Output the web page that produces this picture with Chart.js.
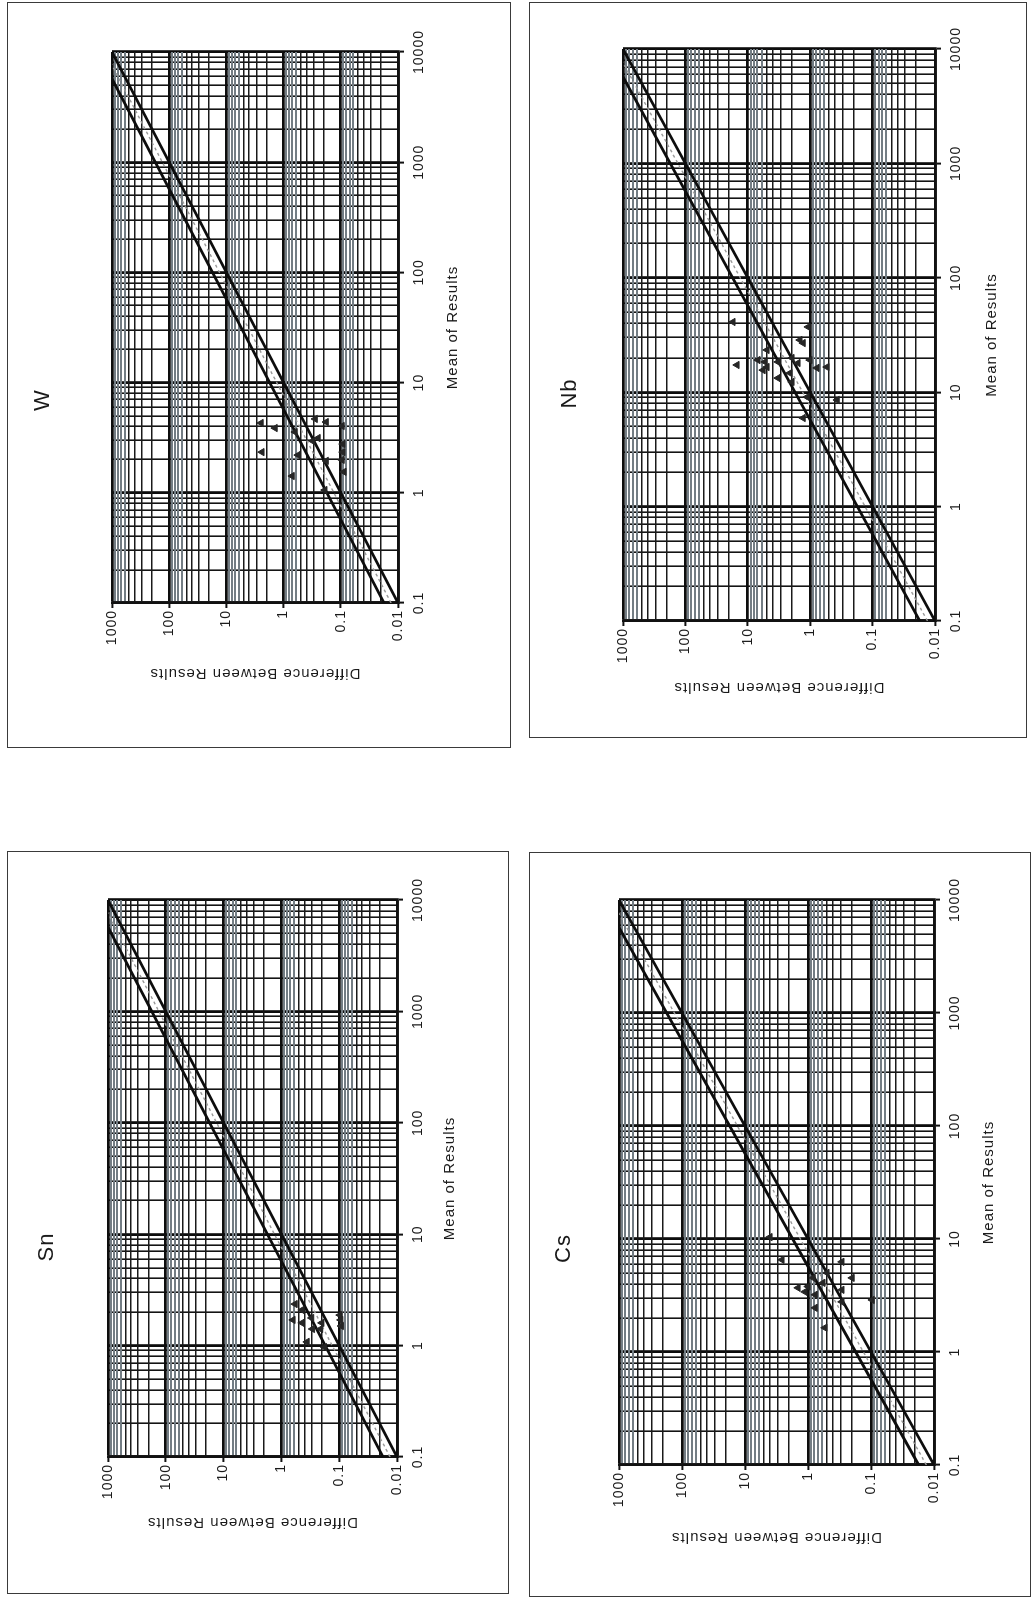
<!DOCTYPE html>
<html><head><meta charset="utf-8">
<script src="https://cdn.jsdelivr.net/npm/chart.js@4.4.1/dist/chart.umd.min.js"></script>
<style>
html,body{margin:0;padding:0;background:#fff;}
body{width:1034px;height:1601px;position:relative;overflow:hidden;}
.box{position:absolute;border:1.5px solid #3a3a3a;box-sizing:border-box;}
.rot{position:absolute;transform-origin:0 0;transform:rotate(-90deg);}
.rot canvas{display:block;}
</style></head><body>
<script>
// ---- data ----
const xTickLabels = ['0.1', '1', '10', '100', '1000', '10000'];
const yTickLabels = ['0.01', '0.1', '1', '10', '100', '1000'];
const lineX = [0.1, 10000];
const lineLower = [0.01, 1000];
const lineUpper = [0.0175, 1750];
const lineMiddle = [0.0132, 1320];

const wMean = [4.30, 3.87, 2.34, 1.42, 2.20, 4.68, 4.39, 4.04, 2.77, 1.99, 1.55, 3.14, 1.95, 3.56, 2.34, 1.06, 2.95];
const wDiff = [2.48, 1.41, 2.39, 0.71, 0.56, 0.28, 0.18, 0.095, 0.092, 0.095, 0.088, 0.25, 0.18, 0.63, 0.092, 0.19, 0.31];

const nbMean = [41.1, 37.2, 28.6, 26.9, 23.4, 17.3, 19.1, 18.4, 16.6, 15.6, 18.4, 19.9, 18.0, 19.1, 16.3, 16.6, 13.3, 14.7, 12.3, 9.08, 8.55, 5.95];
const nbDiff = [17.3, 1.08, 1.46, 1.30, 4.92, 14.9, 6.87, 5.30, 4.92, 5.70, 3.28, 1.96, 1.57, 1.01, 0.78, 0.54, 3.28, 2.11, 1.96, 1.12, 0.37, 1.30];

const snMean = [2.36, 1.70, 1.60, 1.08, 1.77, 1.41, 1.41, 1.60, 0.97, 1.88, 1.70, 1.50, 2.09];
const snDiff = [0.58, 0.63, 0.44, 0.36, 0.30, 0.29, 0.21, 0.20, 0.18, 0.097, 0.094, 0.092, 0.44];

const csMean = [10.4, 6.55, 3.70, 3.41, 4.53, 5.02, 4.09, 3.21, 2.46, 1.64, 6.28, 3.55, 2.78, 4.53, 2.89, 3.8];
const csDiff = [4.01, 2.59, 1.44, 1.12, 0.83, 0.50, 0.58, 0.77, 0.77, 0.54, 0.29, 0.29, 0.29, 0.20, 0.096, 1.0];

// ---- layout (page boxes; chart areas in un-rotated chart coordinates) ----
const panels = [
  {name:'W',  mean:wMean,  diff:wDiff,  box:{l:7,  t:2,   r:511,  b:748},  area:{left:145, right:696, top:105, bottom:391}, titleV:36, yTitleU:75, xTitleV:446},
  {name:'Nb', mean:nbMean, diff:nbDiff, box:{l:529, t:2,  r:1027, b:738},  area:{left:117, right:689, top:94,  bottom:406}, titleV:41, yTitleU:51, xTitleV:463},
  {name:'Sn', mean:snMean, diff:snDiff, box:{l:7,  t:851, r:509,  b:1594}, area:{left:137, right:694, top:101, bottom:390}, titleV:40, yTitleU:72, xTitleV:443},
  {name:'Cs', mean:csMean, diff:csDiff, box:{l:529, t:852, r:1031, b:1597}, area:{left:132, right:697, top:90,  bottom:405}, titleV:35, yTitleU:60, xTitleV:460}
];

const F = "'Liberation Sans', Arial, Helvetica, sans-serif";
const INK = '#1a1a1a';

function tickList(min, max) {
  const out = [];
  for (let e = Math.round(Math.log10(min)); e < Math.round(Math.log10(max)); e++) {
    for (let m = 1; m < 10; m++) out.push(Number((m * Math.pow(10, e)).toPrecision(6)));
  }
  out.push(max);
  return out;
}
function isMajor(v) { const l = Math.log10(v); return Math.abs(l - Math.round(l)) < 1e-6; }
function mant(v) { return Math.round(v / Math.pow(10, Math.floor(Math.log10(v) + 1e-9))); }

const lsPlugin = {
  id: 'ls',
  beforeLayout(chart) { chart.ctx.letterSpacing = '1px'; },
  beforeDraw(chart) { chart.ctx.letterSpacing = '1px'; }
};

function pts(xs, ys) { return xs.map((x, i) => ({x: x, y: ys[i]})); }

panels.forEach(p => {
  const W = p.box.b - p.box.t;   // chart width (page vertical)
  const H = p.box.r - p.box.l;   // chart height (page horizontal)
  const bd = document.createElement('div');
  bd.className = 'box';
  bd.style.left = p.box.l + 'px'; bd.style.top = p.box.t + 'px';
  bd.style.width = (p.box.r - p.box.l) + 'px'; bd.style.height = (p.box.b - p.box.t) + 'px';
  document.body.appendChild(bd);

  const wrap = document.createElement('div');
  wrap.className = 'rot';
  wrap.style.left = p.box.l + 'px'; wrap.style.top = p.box.b + 'px';
  wrap.style.width = W + 'px'; wrap.style.height = H + 'px';
  const cv = document.createElement('canvas');
  cv.width = W; cv.height = H;
  wrap.appendChild(cv);
  document.body.appendChild(wrap);

  const a = p.area;
  const tPadTop = p.titleV - 13.2;
  const tPadBot = a.top - tPadTop - 26.4;

  new Chart(cv, {
    type: 'scatter',
    data: {
      datasets: [
        {data: pts(lineX, lineMiddle), showLine: true, borderColor: '#9a9a9a', borderWidth: 1.4, borderDash: [3, 3], pointRadius: 0, fill: false, order: 3},
        {data: pts(lineX, lineLower), showLine: true, borderColor: '#0d0d0d', borderWidth: 2.8, pointRadius: 0, fill: false, order: 2},
        {data: pts(lineX, lineUpper), showLine: true, borderColor: '#0d0d0d', borderWidth: 2.8, pointRadius: 0, fill: false, order: 2},
        {data: pts(p.mean, p.diff), showLine: false, pointStyle: 'triangle', pointRadius: 4.2, backgroundColor: '#262626', borderColor: '#262626', borderWidth: 1, order: 1}
      ]
    },
    options: {
      responsive: false,
      animation: false,
      devicePixelRatio: 1,
      layout: {padding: {left: 0, top: 0, right: W - a.right, bottom: 0}},
      plugins: {
        legend: {display: false},
        tooltip: {enabled: false},
        title: {display: true, text: p.name, color: INK, font: {family: F, size: 22, weight: 'normal', lineHeight: 1.2}, padding: {top: tPadTop, bottom: tPadBot}}
      },
      scales: {
        x: {
          type: 'logarithmic', position: 'bottom', min: 0.1, max: 10000,
          afterBuildTicks: s => { s.ticks = tickList(0.1, 10000).map(v => ({value: v})); },
          afterFit: s => { s.height = H - a.bottom; },
          ticks: {
            autoSkip: false, maxRotation: 0, minRotation: 0, padding: 7, color: INK,
            font: {family: F, size: 14},
            callback: v => isMajor(v) ? xTickLabels[Math.round(Math.log10(v)) + 1] : ''
          },
          grid: {
            color: c => (c.tick && isMajor(c.tick.value)) ? '#0d0d0d' : '#141414',
            lineWidth: c => (c.tick && isMajor(c.tick.value)) ? 2.8 : 1.6,
            tickLength: 6,
            tickColor: c => (c.tick && isMajor(c.tick.value)) ? '#111' : 'rgba(0,0,0,0)',
            tickWidth: 2
          },
          border: {display: true, color: '#111', width: 2.8},
          title: {display: true, text: 'Mean of Results', color: INK, font: {family: F, size: 15, lineHeight: 1.2}, padding: {top: 0, bottom: H - p.xTitleV - 9}}
        },
        y: {
          type: 'logarithmic', position: 'left', min: 0.01, max: 1000,
          afterBuildTicks: s => { s.ticks = tickList(0.01, 1000).map(v => ({value: v})); },
          afterFit: s => { s.width = a.left; },
          ticks: {
            autoSkip: false, padding: 2, color: INK,
            font: {family: F, size: 14},
            callback: v => isMajor(v) ? yTickLabels[Math.round(Math.log10(v)) + 2] : ''
          },
          grid: {
            color: c => {
              if (!c.tick) return '#1a1a1a';
              if (isMajor(c.tick.value)) return '#0d0d0d';
              return mant(c.tick.value) >= 6 ? '#737d84' : '#1a1a1a';
            },
            lineWidth: c => {
              if (!c.tick) return 1.5;
              if (isMajor(c.tick.value)) return 2.8;
              return mant(c.tick.value) >= 6 ? 2 : 1.5;
            },
            tickLength: 5,
            tickColor: c => (c.tick && isMajor(c.tick.value)) ? '#111' : 'rgba(0,0,0,0)',
            tickWidth: 2
          },
          border: {display: true, color: '#111', width: 2.8},
          title: {display: true, text: 'Difference Between Results', color: INK, font: {family: F, size: 15, lineHeight: 1.2}, padding: {top: p.yTitleU - 9, bottom: 0}}
        }
      }
    },
    plugins: [lsPlugin]
  });
});
</script>
</body></html>
